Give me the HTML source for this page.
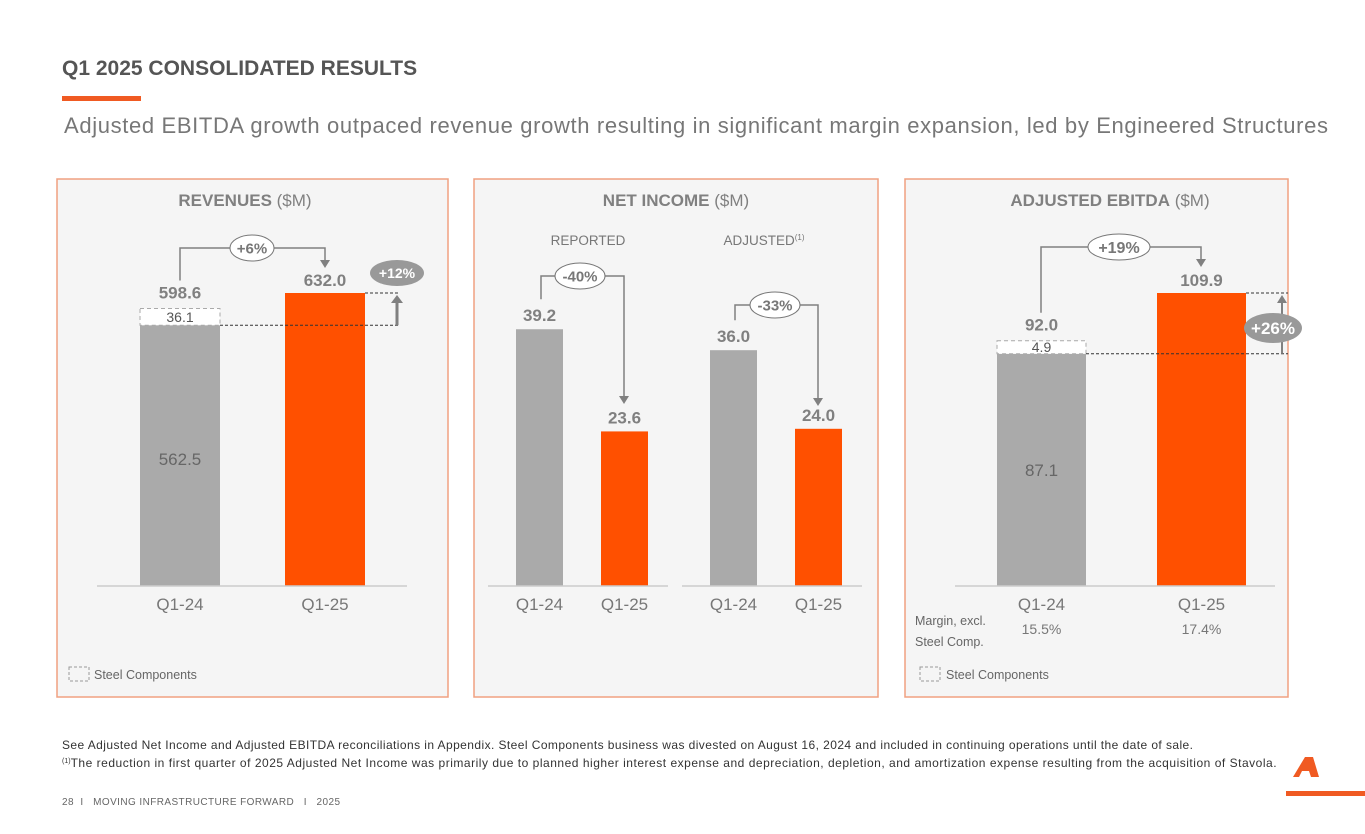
<!DOCTYPE html>
<html><head><meta charset="utf-8">
<style>
body{margin:0;width:1365px;height:829px;background:#fff;overflow:hidden;font-family:"Liberation Sans",Arial,sans-serif}
svg text{font-family:"Liberation Sans",Arial,sans-serif}
</style></head>
<body>
<svg id="s" width="1365" height="829" viewBox="0 0 1365 829" xmlns="http://www.w3.org/2000/svg">
<text x="62" y="75" font-size="21" font-weight="bold" fill="#555">Q1 2025 CONSOLIDATED RESULTS</text>
<rect x="62" y="96" width="79" height="5" fill="#f05a22"/>
<text x="64" y="133" font-size="22" fill="#777" textLength="1264">Adjusted EBITDA growth outpaced revenue growth resulting in significant margin expansion, led by Engineered Structures</text>
<g id="panels"></g>
<text x="62" y="749" font-size="12" fill="#333" textLength="1131">See Adjusted Net Income and Adjusted EBITDA reconciliations in Appendix. Steel Components business was divested on August 16, 2024 and included in continuing operations until the date of sale.</text>
<text x="62" y="767" font-size="12" fill="#333"><tspan font-size="7" dy="-4">(1)</tspan><tspan dy="4" textLength="1206">The reduction in first quarter of 2025 Adjusted Net Income was primarily due to planned higher interest expense and depreciation, depletion, and amortization expense resulting from the acquisition of Stavola.</tspan></text>
<text x="62" y="805" font-size="10" fill="#666" textLength="278" xml:space="preserve">28  I   MOVING INFRASTRUCTURE FORWARD   I   2025</text>
<g>
<polygon points="1293,777 1305,757 1313,757 1319,777 1311,777 1309,771 1302,771 1299,777" fill="#f05a22"/>
<rect x="1286" y="791" width="79" height="5" fill="#f05a22"/>
</g>
</svg>
<script>
const revCats=['Q1-24','Q1-25'];
const revValues=[598.6,632.0];
const revSteel=[36.1,0];
const netCats=['Q1-24','Q1-25','Q1-24','Q1-25'];
const netValues=[39.2,23.6,36.0,24.0];
const ebitdaCats=['Q1-24','Q1-25'];
const ebitdaValues=[92.0,109.9];
const ebitdaSteel=[4.9,0];
const ebitdaMargins=['15.5%','17.4%'];

const NS='http://www.w3.org/2000/svg';
const root=document.getElementById('panels');
function el(tag,attrs,parent,txt){const e=document.createElementNS(NS,tag);for(const k in attrs)e.setAttribute(k,attrs[k]);if(txt!=null)e.textContent=txt;(parent||root).appendChild(e);return e;}
const GRAY='#aaaaaa',OR='#ff5000',TXT='#808080';
const base=586;

function panel(x,w,name){
  const g=el('g',{});
  
  
  el('rect',{x:x,y:179,width:w,height:518,fill:'#f5f5f5',stroke:'#f0a080','stroke-width':1.5},g);
  return g;
}
function bar(g,x,w,top,fill,name){
  const r=el('rect',{x:x,y:top,width:w,height:base-top,fill:fill},g);
  
  
  return r;
}
function pill(g,cx,cy,rx,ry,text,filled,fs,name){
  const gg=el('g',{},g);
  
  
  el('ellipse',{cx:cx,cy:cy,rx:rx,ry:ry,fill:filled?'#999':'#fff',stroke:filled?'none':'#777'},gg);
  el('text',{x:cx,y:cy+fs*0.36,'font-size':fs,'font-weight':'bold','text-anchor':'middle',fill:filled?'#fff':'#777'},gg,text);
}
function connector(g,x1,y1,x2,y2,ytop){
  el('path',{d:`M${x1},${y1} V${ytop} H${x2} V${y2-7}`,fill:'none',stroke:'#808080','stroke-width':1.5},g);
  el('polygon',{points:`${x2-5},${y2-8} ${x2+5},${y2-8} ${x2},${y2}`,fill:'#808080'},g);
}
function label(g,x,y,t,fs,bold,fill,name,anchor){
  const e=el('text',{x:x,y:y,'font-size':fs,'font-weight':bold?'bold':'normal','text-anchor':anchor||'middle',fill:fill||TXT},g,t);
  
  
  return e;
}

/* Revenues */
(function(){
  const g=panel(57,391,'revenues-panel');
  const ys=v=>base-v*(293/632);
  label(g,245,206,'',17,false,TXT,'revenues-title').innerHTML='<tspan font-weight="bold">REVENUES</tspan> ($M)';
  const xs=[140,285],bw=80;
  const core0=revValues[0]-revSteel[0];
  bar(g,xs[0],bw,ys(core0),GRAY,'bar-revenue-q1-24');
  el('rect',{x:xs[0],y:ys(revValues[0]),width:bw,height:ys(core0)-ys(revValues[0]),fill:'#fff',stroke:'#aaa','stroke-dasharray':'4,3'},g);
  label(g,xs[0]+bw/2,ys(core0)-3,revSteel[0].toFixed(1),14,false,'#555','revenue-steel-label');
  label(g,xs[0]+bw/2,465,core0.toFixed(1),17,false,'#666','revenue-core-label');
  bar(g,xs[1],bw,ys(revValues[1]),OR,'bar-revenue-q1-25');
  label(g,xs[0]+bw/2,ys(revValues[0])-10,revValues[0].toFixed(1),17,true,TXT,'revenue-value-q1-24');
  label(g,xs[1]+bw/2,ys(revValues[1])-7,revValues[1].toFixed(1),17,true,TXT,'revenue-value-q1-25');
  connector(g,xs[0]+40,ys(revValues[0])-28,xs[1]+40,ys(revValues[1])-25,248);
  pill(g,252,248,22,13,'+6%',false,15,'revenue-growth-badge');
  el('line',{x1:xs[0]+bw,y1:ys(core0),x2:400,y2:ys(core0),stroke:'#333','stroke-dasharray':'3,2'},g);
  el('line',{x1:xs[1]+bw,y1:ys(revValues[1]),x2:400,y2:ys(revValues[1]),stroke:'#333','stroke-dasharray':'3,2'},g);
  el('line',{x1:397,y1:ys(core0),x2:397,y2:ys(revValues[1])+8,stroke:'#808080','stroke-width':3},g);
  el('polygon',{points:`391,${ys(revValues[1])+10} 403,${ys(revValues[1])+10} 397,${ys(revValues[1])+2}`,fill:'#808080'},g);
  pill(g,397,273,27,13,'+12%',true,14,'revenue-core-growth-badge');
  el('line',{x1:97,y1:base,x2:407,y2:base,stroke:'#ccc','stroke-width':1.5},g);
  revCats.forEach((c,i)=>label(g,xs[i]+bw/2,610,c,17,false,'#777','x-label-revenue-'+i));
  el('rect',{x:69,y:667,width:20,height:14,fill:'none',stroke:'#999','stroke-dasharray':'3,2'},g);
  label(g,94,679,'Steel Components',12.5,false,'#666','revenue-legend','start');
})();

/* Net income */
(function(){
  const g=panel(474,404,'net-income-panel');
  const ys=v=>base-v*6.55;
  label(g,676,206,'',17,false,TXT,'net-income-title').innerHTML='<tspan font-weight="bold">NET INCOME</tspan> ($M)';
  label(g,588,245,'REPORTED',13.5,false,'#777','reported-label');
  label(g,764,245,'',13.5,false,'#777','adjusted-label').innerHTML='ADJUSTED<tspan font-size="8" dy="-5">(1)</tspan>';
  const xs=[516,601,710,795],bw=47;
  netValues.forEach((v,i)=>{
    bar(g,xs[i],bw,ys(v),i%2?OR:GRAY,'bar-net-income-'+i);
    label(g,xs[i]+bw/2,ys(v)-8,v.toFixed(1),17,true,TXT,'net-income-value-'+i);
    label(g,xs[i]+bw/2,610,netCats[i],17,false,'#777','x-label-net-income-'+i);
  });
  connector(g,xs[0]+25,ys(netValues[0])-30,xs[1]+23,404,276);
  pill(g,580,276,25,13,'-40%',false,15,'reported-change-badge');
  connector(g,xs[2]+25,ys(netValues[2])-30,xs[3]+23,406,305);
  pill(g,775,305,25,13,'-33%',false,15,'adjusted-change-badge');
  el('line',{x1:488,y1:base,x2:668,y2:base,stroke:'#ccc','stroke-width':1.5},g);
  el('line',{x1:682,y1:base,x2:862,y2:base,stroke:'#ccc','stroke-width':1.5},g);
})();

/* EBITDA */
(function(){
  const g=panel(905,383,'ebitda-panel');
  const ys=v=>base-v*(293/109.9);
  label(g,1110,206,'',17,false,TXT,'ebitda-title').innerHTML='<tspan font-weight="bold">ADJUSTED EBITDA</tspan> ($M)';
  const xs=[997,1157],bw=89;
  const core0=ebitdaValues[0]-ebitdaSteel[0];
  bar(g,xs[0],bw,ys(core0),GRAY,'bar-ebitda-q1-24');
  el('rect',{x:xs[0],y:ys(ebitdaValues[0]),width:bw,height:ys(core0)-ys(ebitdaValues[0]),fill:'#fff',stroke:'#aaa','stroke-dasharray':'4,3'},g);
  label(g,xs[0]+bw/2,ys(core0)-2,ebitdaSteel[0].toFixed(1),14,false,'#555','ebitda-steel-label');
  label(g,xs[0]+bw/2,476,core0.toFixed(1),17,false,'#666','ebitda-core-label');
  bar(g,xs[1],bw,ys(ebitdaValues[1]),OR,'bar-ebitda-q1-25');
  label(g,xs[0]+bw/2,ys(ebitdaValues[0])-10,ebitdaValues[0].toFixed(1),17,true,TXT,'ebitda-value-q1-24');
  label(g,xs[1]+bw/2,ys(ebitdaValues[1])-7,ebitdaValues[1].toFixed(1),17,true,TXT,'ebitda-value-q1-25');
  connector(g,1041,ys(ebitdaValues[0])-28,1201,ys(ebitdaValues[1])-26,247);
  pill(g,1119,247,31,13,'+19%',false,16,'ebitda-growth-badge');
  el('line',{x1:xs[0]+bw,y1:ys(core0),x2:1288,y2:ys(core0),stroke:'#333','stroke-dasharray':'3,2'},g);
  el('line',{x1:xs[1]+bw,y1:ys(ebitdaValues[1]),x2:1288,y2:ys(ebitdaValues[1]),stroke:'#333','stroke-dasharray':'3,2'},g);
  el('line',{x1:1282,y1:ys(core0),x2:1282,y2:ys(ebitdaValues[1])+8,stroke:'#808080','stroke-width':2},g);
  el('polygon',{points:`1277,${ys(ebitdaValues[1])+10} 1287,${ys(ebitdaValues[1])+10} 1282,${ys(ebitdaValues[1])+2}`,fill:'#808080'},g);
  pill(g,1273,328,29,15,'+26%',true,17,'ebitda-core-growth-badge');
  el('line',{x1:955,y1:base,x2:1275,y2:base,stroke:'#ccc','stroke-width':1.5},g);
  ebitdaCats.forEach((c,i)=>{
    label(g,xs[i]+bw/2,610,c,17,false,'#777','x-label-ebitda-'+i);
    label(g,xs[i]+bw/2,634,ebitdaMargins[i],14,false,'#777','ebitda-margin-'+i);
  });
  label(g,915,625,'Margin, excl.',12.5,false,'#666','margin-label-1','start');
  label(g,915,646,'Steel Comp.',12.5,false,'#666','margin-label-2','start');
  el('rect',{x:920,y:667,width:20,height:14,fill:'none',stroke:'#999','stroke-dasharray':'3,2'},g);
  label(g,946,679,'Steel Components',12.5,false,'#666','ebitda-legend','start');
})();
</script>
</body></html>
